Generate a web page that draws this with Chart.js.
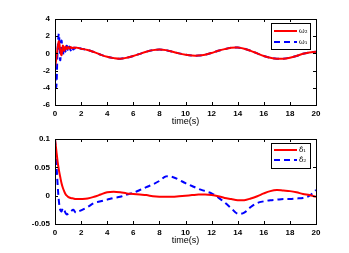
<!DOCTYPE html>
<html>
<head>
<meta charset="utf-8">
<script src="https://cdn.jsdelivr.net/npm/chart.js@4"></script>
<style>
  body { margin: 0; background: #fff; }
  #wrap { position: relative; width: 349px; height: 253px; }
  .box { position: absolute; left: 0; width: 349px; }
</style>
</head>
<body>
<div id="wrap">
  <div class="box" style="top:0;height:127px"><canvas id="chart-omega"></canvas></div>
  <div class="box" style="top:120px;height:133px"><canvas id="chart-delta"></canvas></div>
</div>
<script>
// top plot: time and the two omega curves
const timeTop = [0, 0.1, 0.2, 0.3, 0.4, 0.5, 0.6, 0.7, 0.8, 0.9, 1.0, 1.1, 1.2, 1.3, 1.4, 1.5, 1.6, 1.8, 2.0,
    2.5, 3, 3.5, 4, 4.5, 5, 5.5, 6, 6.5, 7, 7.5, 8, 8.5, 9, 9.5, 10, 10.5, 11, 11.5, 12,
    12.5, 13, 13.5, 14, 14.5, 15, 15.5, 16, 16.5, 17, 17.5, 18, 18.5, 19, 19.5, 20];
const omega2 = [-1.6, -0.6, 0.6, 1.4, 0.4, -0.2, 0.9, 0.3, 0.8, 0.5, 0.75, 0.55, 0.75, 0.6, 0.7, 0.62, 0.68, 0.62, 0.55,
    0.4, 0.15, -0.15, -0.4, -0.55, -0.62, -0.5, -0.3, -0.05, 0.2, 0.38, 0.45, 0.38, 0.2, 0, -0.15, -0.25, -0.25, -0.15, 0.05,
    0.3, 0.5, 0.65, 0.68, 0.55, 0.3, 0, -0.3, -0.5, -0.62, -0.62, -0.5, -0.3, -0.05, 0.1, 0.2];
const omega1 = [-2.5, -3.9, 0.5, 2.3, -0.8, 1.5, -0.3, 0.9, 0.2, 0.9, 0.3, 0.8, 0.35, 0.75, 0.45, 0.7, 0.5, 0.65, 0.55,
    0.4, 0.15, -0.15, -0.4, -0.55, -0.62, -0.5, -0.3, -0.05, 0.2, 0.38, 0.45, 0.38, 0.2, 0, -0.15, -0.25, -0.25, -0.15, 0.05,
    0.3, 0.5, 0.65, 0.68, 0.55, 0.3, 0, -0.3, -0.5, -0.62, -0.62, -0.5, -0.3, -0.05, 0.1, 0.2];

// bottom plot: time and the two delta estimates
const timeBottom = [0, 0.1, 0.2, 0.3, 0.4, 0.5, 0.6, 0.7, 0.8, 0.9, 1.0, 1.2, 1.4, 1.6, 1.8, 2.0,
    2.5, 3, 3.5, 4, 4.5, 5, 5.5, 6, 6.5, 7, 7.5, 8, 8.5, 9, 9.5, 10, 10.5, 11, 11.5, 12,
    12.5, 13, 13.5, 14, 14.5, 15, 15.5, 16, 16.5, 17, 17.5, 18, 18.5, 19, 19.5, 20];
const delta1 = [0.1, 0.08, 0.06, 0.045, 0.033, 0.022, 0.014, 0.008, 0.003, 0, -0.002, -0.004, -0.005, -0.006, -0.006, -0.006,
    -0.005, -0.002, 0.002, 0.006, 0.007, 0.006, 0.004, 0.003, 0.002, 0.001, -0.001, -0.002, -0.002, -0.002, -0.001, 0, 0.001, 0.002, 0.002, 0.001,
    -0.001, -0.004, -0.006, -0.008, -0.008, -0.005, -0.001, 0.004, 0.008, 0.01, 0.009, 0.008, 0.006, 0.003, 0.001, -0.002];
const delta2 = [0.1, 0.06, 0.02, -0.01, -0.025, -0.028, -0.022, -0.025, -0.03, -0.033, -0.032, -0.028, -0.025, -0.03, -0.028, -0.026,
    -0.02, -0.013, -0.01, -0.007, -0.004, -0.002, 0.002, 0.005, 0.01, 0.015, 0.02, 0.026, 0.034, 0.033, 0.028, 0.022, 0.017, 0.012, 0.008, 0.004,
    -0.003, -0.012, -0.022, -0.032, -0.03, -0.02, -0.013, -0.01, -0.008, -0.007, -0.006, -0.006, -0.005, -0.004, 0, 0.01];

const xTicks = [0, 2, 4, 6, 8, 10, 12, 14, 16, 18, 20];

function pts(xs, ys) {
    return xs.map((x, i) => ({ x: x, y: ys[i] }));
}

// matlab style box, inward ticks and legend in the corner
const matlabBox = {
    id: 'matlabBox',
    afterDraw(chart, args, opts) {
        const c = chart.ctx;
        const a = chart.chartArea;
        const sx = chart.scales.x, sy = chart.scales.y;
        c.save();
        c.strokeStyle = '#000';
        c.lineWidth = 1;
        c.strokeRect(a.left + 0.5, a.top + 0.5, a.right - a.left, a.bottom - a.top);
        c.beginPath();
        sx.ticks.forEach(t => {
            const px = Math.round(sx.getPixelForValue(t.value)) + 0.5;
            c.moveTo(px, a.bottom); c.lineTo(px, a.bottom - 3);
            c.moveTo(px, a.top); c.lineTo(px, a.top + 3);
        });
        sy.ticks.forEach(t => {
            const py = Math.round(sy.getPixelForValue(t.value)) + 0.5;
            c.moveTo(a.left, py); c.lineTo(a.left + 3, py);
            c.moveTo(a.right, py); c.lineTo(a.right - 3, py);
        });
        c.stroke();

        // legend
        const L = opts.legend;
        c.fillStyle = '#fff';
        c.fillRect(L.x, L.y, L.w, L.h);
        c.strokeRect(L.x + 0.5, L.y + 0.5, L.w, L.h);
        chart.data.datasets.forEach((ds, i) => {
            const y = L.y + L.rows[i];
            c.beginPath();
            c.strokeStyle = ds.borderColor;
            c.lineWidth = 2;
            c.setLineDash(ds.borderDash || []);
            c.moveTo(L.x + 3, y); c.lineTo(L.x + 26, y);
            c.stroke();
            c.setLineDash([]);
            c.fillStyle = '#000';
            c.font = '7px "DejaVu Serif"';
            c.textBaseline = 'middle';
            c.fillText(ds.label, L.x + 28, y);
        });
        c.restore();
    }
};

function makeChart(id, dsets, yMin, yMax, yStep, yFmt, legend, padBottom) {
    return new Chart(document.getElementById(id), {
        type: 'line',
        data: { datasets: dsets },
        options: {
            animation: false,
            maintainAspectRatio: false,
            responsive: true,
            layout: { padding: { left: 0, right: 33, top: 19, bottom: padBottom } },
            elements: { point: { radius: 0 }, line: { tension: 0.35, borderWidth: 2 } },
            scales: {
                x: {
                    type: 'linear', min: 0, max: 20,
                    afterBuildTicks: s => { s.ticks = xTicks.map(v => ({ value: v })); },
                    grid: { display: false, drawTicks: false },
                    border: { display: false },
                    ticks: { color: '#000', font: { size: 8, family: 'Arial', weight: 'bold' }, padding: 4, maxRotation: 0 },
                    title: { display: true, text: 'time(s)', color: '#000', font: { size: 9, family: 'Arial' }, padding: 0 },
                    afterFit: s => { s.height = 22; }
                },
                y: {
                    min: yMin, max: yMax,
                    grid: { display: false, drawTicks: false },
                    border: { display: false },
                    ticks: { stepSize: yStep, color: '#000', font: { size: 8, family: 'Arial', weight: 'bold' }, padding: 5, callback: yFmt },
                    afterFit: s => { s.width = 55; }
                }
            },
            plugins: {
                legend: { display: false },
                tooltip: { enabled: false },
                matlabBox: { legend: legend }
            }
        },
        plugins: [matlabBox]
    });
}

makeChart('chart-omega', [
    { label: 'ω₂', data: pts(timeTop, omega2), borderColor: '#ff0000' },
    { label: 'ω₁', data: pts(timeTop, omega1), borderColor: '#0000ff', borderDash: [6, 4] }
], -6, 4, 2, v => v, { x: 271, y: 23, w: 39, h: 26, rows: [8, 19] }, 0);

makeChart('chart-delta', [
    { label: 'δ̂₁', data: pts(timeBottom, delta1), borderColor: '#ff0000' },
    { label: 'δ̂₂', data: pts(timeBottom, delta2), borderColor: '#0000ff', borderDash: [6, 4] }
], -0.05, 0.1, 0.05, v => (Math.abs(v) < 1e-9 ? '0' : +v.toFixed(2)), { x: 271, y: 23, w: 39, h: 25, rows: [7, 17] }, 7);
</script>
</body>
</html>
